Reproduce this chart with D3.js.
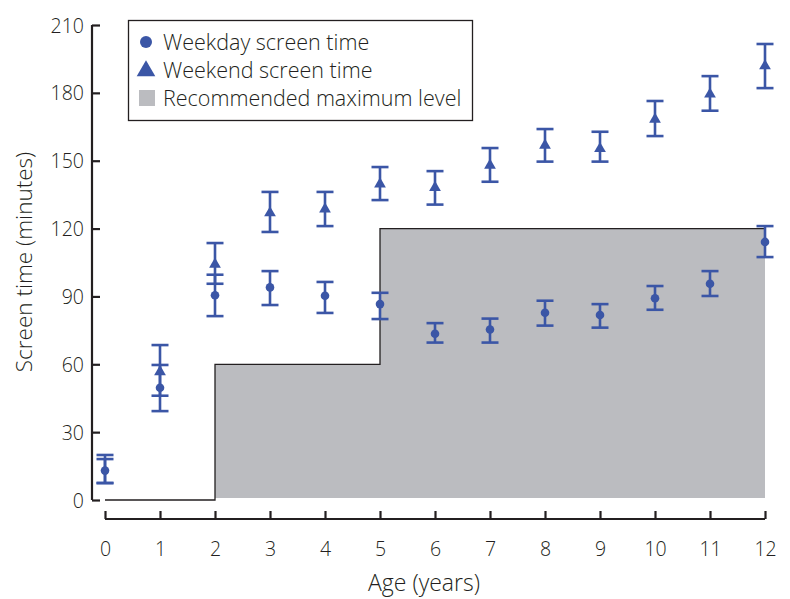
<!DOCTYPE html>
<html><head><meta charset="utf-8">
<script src="https://cdn.jsdelivr.net/npm/d3@7"></script>
<style>
body{margin:0;background:#fff;}
text{font-family:"Open Sans",sans-serif;fill:#231f20;font-weight:300;}
</style></head>
<body><svg id="c" width="790" height="599"></svg>
<script>
const ages = [0,1,2,3,4,5,6,7,8,9,10,11,12];
const weekdayMean = [13,49.6,90.5,94,90.3,86.6,73.5,75.4,82.8,81.8,89.2,95.6,114.1];
const weekdayLow  = [7.5,39.3,81.3,86.2,82.7,80.0,69.6,69.6,77.1,76.2,84.1,90.2,107.4];
const weekdayHigh = [18.1,59.7,99.6,101.2,96.4,91.6,78.2,80.2,88.1,86.6,94.6,101.2,121.1];
const weekendMean = [null,56.7,104.2,126.9,128.6,139.7,138.1,148,156.8,155.3,168.3,179.4,191.9];
const weekendLow  = [7.5,46.1,95.6,118.5,121.1,132.6,130.6,140.7,149.6,149.6,160.9,172.1,182.1];
const weekendHigh = [19.9,68.5,113.6,136.2,136.2,147.2,145.4,155.6,164,162.8,176.4,187.4,201.6];
const recAges  = [0,2,2,5,5,12];
const recLevel = [0,0,60,60,120,120];
const yTicks = [0,30,60,90,120,150,180,210];
const xTicks = ages;
const legendLabels = ["Weekday screen time","Weekend screen time","Recommended maximum level"];

const blue = "#3b56a6", grey = "#bbbcc0", ink = "#231f20";
const svg = d3.select("#c");
const x = d3.scaleLinear().domain([0,12]).range([105,765]);
const y = d3.scaleLinear().domain([0,210]).range([500,25]);

// recommended area
const recPts = recAges.map((a,i)=>[a,recLevel[i]]);
const areaPts = recPts.filter(p=>p[0]>=2);
svg.append("path")
  .datum(areaPts)
  .attr("d", d3.area().x(d=>x(d[0])).y0(y(0)-2).y1(d=>y(d[1])))
  .attr("fill", grey);
svg.append("path")
  .datum(recPts)
  .attr("d", d3.line().x(d=>x(d[0])).y(d=>y(d[1])))
  .attr("fill","none").attr("stroke",ink).attr("stroke-width",1.3);

// y axis
const yAxis = svg.append("g").attr("transform","translate(92,0)")
  .call(d3.axisRight(y).tickValues(yTicks).tickSize(8).tickFormat(d3.format("d")));
yAxis.select(".domain").attr("d", `M0,${y(210)}V${y(0)}`).attr("stroke",ink).attr("stroke-width",2.2);
yAxis.selectAll(".tick line").attr("stroke",ink).attr("stroke-width",2.2);
yAxis.selectAll(".tick text").attr("x",-8).attr("text-anchor","end").attr("dy","0.36em")
  .style("font-size","19.5px").attr("fill",ink);

// x axis
const xAxis = svg.append("g").attr("transform","translate(0,519)")
  .call(d3.axisTop(x).tickValues(xTicks).tickSize(8).tickFormat(d3.format("d")));
xAxis.select(".domain").attr("d", `M${x(0)},0H${x(12)}`).attr("stroke",ink).attr("stroke-width",2.2);
xAxis.selectAll(".tick line").attr("stroke",ink).attr("stroke-width",2.2);
xAxis.selectAll(".tick text").attr("y",30).attr("dy","0.36em")
  .style("font-size","19.5px").attr("fill",ink);

// axis titles
svg.append("text").attr("x",424).attr("y",591).attr("text-anchor","middle")
  .style("font-size","23px").text("Age (years)");
svg.append("text").attr("transform","translate(32,262) rotate(-90)").attr("text-anchor","middle")
  .style("font-size","22.5px").text("Screen time (minutes)");

// error bars
function errBars(mean, lo, hi){
  const g = svg.append("g").attr("stroke",blue).attr("stroke-width",2.6);
  ages.forEach((a,i)=>{
    g.append("line").attr("x1",x(a)).attr("x2",x(a)).attr("y1",y(lo[i])).attr("y2",y(hi[i]));
    [lo[i],hi[i]].forEach(v=>g.append("line").attr("x1",x(a)-8.5).attr("x2",x(a)+8.5).attr("y1",y(v)).attr("y2",y(v)));
  });
}
errBars(weekendMean, weekendLow, weekendHigh);
errBars(weekdayMean, weekdayLow, weekdayHigh);
const tri = d3.symbol().type(d3.symbolTriangle).size(60);
svg.append("g").selectAll("path").data(ages.filter((a,i)=>weekendMean[i]!=null)).join("path")
  .attr("d", tri).attr("transform",a=>`translate(${x(a)},${y(weekendMean[ages.indexOf(a)])})`).attr("fill",blue);
svg.append("g").selectAll("circle").data(ages).join("circle")
  .attr("cx",a=>x(a)).attr("cy",(a,i)=>y(weekdayMean[i])).attr("r",4.3).attr("fill",blue);

// legend
const lg = svg.append("g");
lg.append("rect").attr("x",128.5).attr("y",20.5).attr("width",344).attr("height",100)
  .attr("fill","#fff").attr("stroke",ink).attr("stroke-width",1.3);
const rows = [42,70,98];
lg.append("circle").attr("cx",146).attr("cy",rows[0]).attr("r",6).attr("fill",blue);
lg.append("path").attr("d", d3.symbol().type(d3.symbolTriangle).size(150)).attr("transform",`translate(146,${rows[1]+1})`).attr("fill",blue);
lg.append("rect").attr("x",139).attr("y",rows[2]-8).attr("width",16).attr("height",16).attr("fill",grey);
legendLabels.forEach((t,i)=>lg.append("text").attr("x",163).attr("y",rows[i]).attr("dy","0.36em").style("font-size","21.5px").text(t));
</script></body></html>
